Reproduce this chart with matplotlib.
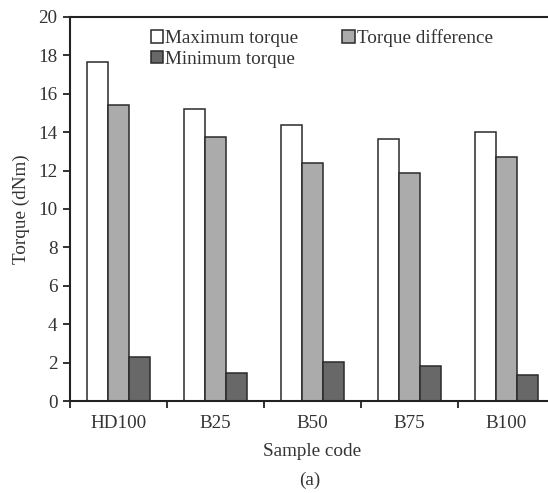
import matplotlib
matplotlib.use("Agg")
import matplotlib.pyplot as plt
import numpy as np

categories = ["HD100", "B25", "B50", "B75", "B100"]
max_torque = [17.65, 15.2, 14.38, 13.65, 14.0]
torque_diff = [15.4, 13.75, 12.38, 11.88, 12.7]
min_torque = [2.28, 1.48, 2.02, 1.83, 1.33]
yticks = [0, 2, 4, 6, 8, 10, 12, 14, 16, 18, 20]

plt.rcParams['font.family'] = ['Liberation Serif', 'DejaVu Serif']
txt = '#333333'
fs = 13.8

fig = plt.figure(figsize=(5.48, 4.93), dpi=100)
ax = fig.add_axes([70/548, 1 - 401/493, 485/548, 384/493])

x = np.arange(len(categories))
w = 0.216
ec = '#2a2a2a'
b1 = ax.bar(x - w, max_torque, w, color='white', edgecolor=ec, linewidth=1.1, label='Maximum torque')
b2 = ax.bar(x, torque_diff, w, color='#ababab', edgecolor=ec, linewidth=1.1, label='Torque difference')
b3 = ax.bar(x + w, min_torque, w, color='#686868', edgecolor=ec, linewidth=1.1, label='Minimum torque')

ax.set_xlim(-0.5, 4.5)
ax.set_ylim(0, 20)
ax.set_yticks(yticks)
ax.set_yticklabels([str(v) for v in yticks], fontsize=fs, color=txt)
ax.set_xticks(np.arange(-0.5, 5.0, 1.0))
ax.set_xticklabels([])
ax.set_xticks(x, minor=True)
ax.set_xticklabels(categories, minor=True, fontsize=fs, color=txt)
ax.tick_params(axis='x', which='minor', length=0, pad=10)
ax.tick_params(axis='x', which='major', length=5, width=1.3, direction='out', color='#222')
ax.tick_params(axis='y', length=5, width=1.3, direction='out', color='#222', pad=4)

for s in ['left', 'bottom', 'top']:
    ax.spines[s].set_linewidth(1.5)
    ax.spines[s].set_color('#222')
ax.spines['right'].set_visible(False)

ax.set_ylabel('Torque (dNm)', fontsize=fs, color=txt, labelpad=6)
ax.set_xlabel('Sample code', fontsize=fs, color=txt, labelpad=8)

leg = ax.legend(handles=[b1, b3, b2], ncol=2, loc='upper left', bbox_to_anchor=(0.143, 0.998),
                frameon=False, fontsize=fs, handlelength=0.65, handleheight=0.65,
                handletextpad=0.1, columnspacing=2.3, labelspacing=0.18, borderaxespad=0.2)
for t in leg.get_texts():
    t.set_color(txt)

fig.text(310/548, 1 - 480/493, '(a)', fontsize=fs, color=txt, ha='center', va='center')

fig.savefig('out.png', dpi=100)
